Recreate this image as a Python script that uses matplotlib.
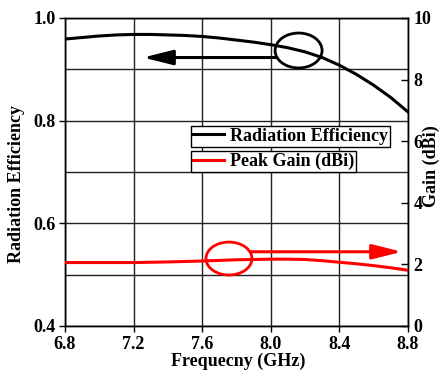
import matplotlib.pyplot as plt
from matplotlib.patches import Ellipse
from matplotlib.lines import Line2D
from matplotlib.ticker import MultipleLocator

plt.rcParams['font.family'] = ['Liberation Serif', 'DejaVu Serif']
plt.rcParams['font.weight'] = 'bold'

# frequency sweep and measured curves
freq_eff = [6.8, 6.9, 7.0, 7.1, 7.2, 7.3, 7.4, 7.5, 7.6, 7.7, 7.8, 7.9, 8.0,
            8.1, 8.2, 8.3, 8.4, 8.5, 8.6, 8.7, 8.8]
efficiency = [0.959, 0.962, 0.965, 0.967, 0.968, 0.968, 0.967, 0.966, 0.964,
              0.961, 0.957, 0.953, 0.948, 0.942, 0.934, 0.923, 0.908, 0.890,
              0.869, 0.845, 0.817]

freq_gain = [6.8, 7.0, 7.2, 7.4, 7.6, 7.8, 8.0, 8.1, 8.2, 8.3, 8.4, 8.5, 8.6,
             8.7, 8.8]
peak_gain = [2.06, 2.06, 2.06, 2.08, 2.11, 2.15, 2.17, 2.17, 2.16, 2.12, 2.07,
             2.02, 1.96, 1.89, 1.81]

x_ticks = [6.8, 7.2, 7.6, 8.0, 8.4, 8.8]
eff_ticks = [0.4, 0.6, 0.8, 1.0]
gain_ticks = [0, 2, 4, 6, 8, 10]

fs = 13
W, H = 440, 371

fig = plt.figure(figsize=(4.4, 3.71), dpi=100)
ax = fig.add_axes([65 / W, 1 - 326 / H, 343 / W, 308 / H])
ax2 = ax.twinx()

lw = 2.2
ax.plot(freq_eff, efficiency, color='black', lw=lw, zorder=3)
ax2.plot(freq_gain, peak_gain, color='red', lw=lw, zorder=3)

ax.set_xlim(6.8, 8.8)
ax.set_ylim(0.4, 1.0)
ax2.set_ylim(0, 10)
ax.set_xticks(x_ticks)
ax.set_xticklabels([f'{v:.1f}' for v in x_ticks])
ax.set_yticks(eff_ticks)
ax.set_yticklabels([f'{v:.1f}' for v in eff_ticks])
ax.yaxis.set_minor_locator(MultipleLocator(0.1))
ax2.set_yticks(gain_ticks)

ax.grid(True, which='major', axis='x', color='#222222', lw=1.0)
ax.grid(True, which='both', axis='y', color='#222222', lw=1.0)
ax.set_axisbelow(True)

ax.tick_params(axis='both', which='major', direction='out', length=4,
               labelsize=fs, width=1, pad=3)
ax.tick_params(axis='y', which='minor', length=0)
ax2.tick_params(axis='y', direction='in', length=5, labelsize=fs, width=1, pad=4)
for lab in ax.get_xticklabels() + ax.get_yticklabels() + ax2.get_yticklabels():
    lab.set_fontweight('bold')

# axis titles
fig.text(238 / W, 1 - 361 / H, 'Frequecny (GHz)', fontsize=fs, fontweight='bold',
         ha='center', va='center')
fig.text(17 / W, 1 - 184 / H, 'Radiation Efficiency', fontsize=fs,
         fontweight='bold', rotation=90, ha='center', va='center')
fig.text(431 / W, 1 - 166 / H, 'Gain (dBi)', fontsize=fs, fontweight='bold',
         rotation=90, ha='center', va='center')

for sp in list(ax.spines.values()) + list(ax2.spines.values()):
    sp.set_linewidth(1.0)

# circles and arrows pointing each curve to its axis
ax.add_patch(Ellipse((8.162, 0.9367), 0.274, 0.068, fill=False,
                     ec='black', lw=2.0, zorder=4))
ax.annotate('', xy=(7.255, 0.923), xytext=(8.03, 0.923),
            arrowprops=dict(arrowstyle='-|>,head_length=1.8,head_width=0.45',
                            color='black', lw=2.2, mutation_scale=10,
                            shrinkA=0, shrinkB=0), zorder=4)
ax2.add_patch(Ellipse((7.756, 2.19), 0.268, 1.07, fill=False,
                      ec='red', lw=2.0, zorder=4))
ax2.annotate('', xy=(8.765, 2.41), xytext=(7.88, 2.41),
             arrowprops=dict(arrowstyle='-|>,head_length=1.8,head_width=0.45',
                             color='red', lw=2.2, mutation_scale=10,
                             shrinkA=0, shrinkB=0), zorder=4)

# two separate legend boxes
leg_kw = dict(loc='upper left', bbox_transform=fig.transFigure, frameon=True,
              fancybox=False, edgecolor='black', framealpha=1, borderaxespad=0,
              borderpad=0.1, handlelength=1.75, handletextpad=0.3,
              prop={'weight': 'bold', 'size': fs})
leg1 = ax2.legend([Line2D([], [], color='black', lw=lw)], ['Radiation Efficiency'],
                  bbox_to_anchor=(191 / W, 1 - 126 / H), **leg_kw)
leg1.get_frame().set_linewidth(1.0)
ax2.add_artist(leg1)
leg2 = ax2.legend([Line2D([], [], color='red', lw=lw)], ['Peak Gain (dBi)'],
                  bbox_to_anchor=(191 / W, 1 - 151 / H), **leg_kw)
leg2.get_frame().set_linewidth(1.0)

fig.savefig('out.png', dpi=100)
